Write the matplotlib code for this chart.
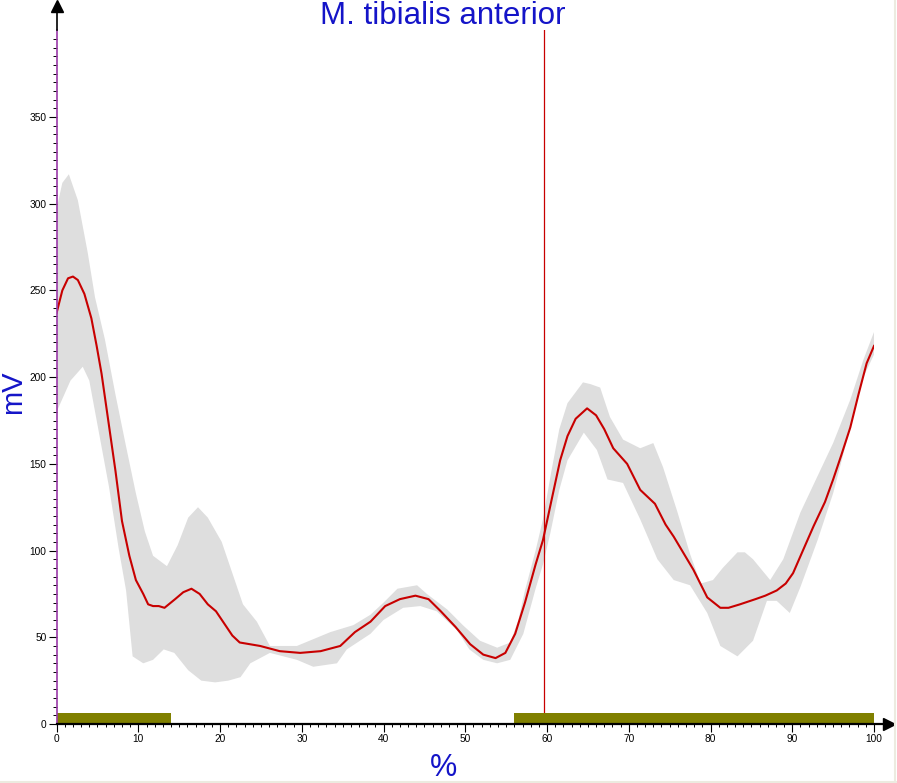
import numpy as np
import matplotlib
matplotlib.use("Agg")
import matplotlib.pyplot as plt
from matplotlib.ticker import FixedLocator, NullFormatter

plt.rcParams['font.family'] = ['Liberation Sans', 'DejaVu Sans']

# ---- data ----
mean_x = [0, 0.7, 1.4, 2.0, 2.6, 3.4, 4.25, 4.9, 5.5, 6.35, 7.2, 8.0, 8.9, 9.7, 10.6, 11.2,
          11.8, 12.5, 13.2, 14.5, 15.5, 16.5, 17.5, 18.5, 19.5, 20.5, 21.5, 22.4, 24.9, 27.3,
          29.8, 32.3, 34.7, 36.5, 38.4, 40.2, 42, 43.9, 45.5, 47, 48.8, 50.6, 52.2, 53.7,
          54.9, 56.1, 57.3, 58.6, 59.5, 60.5, 61.6, 62.5, 63.5, 64.9, 66, 67, 68.1, 69.8,
          71.4, 73.2, 74.5, 75.5, 77.9, 79.6, 81.2, 82.2, 83.6, 85.5, 86.7, 88.1, 89.2,
          90.1, 91.3, 92.6, 94, 95, 96, 97.1, 98.1, 99.1, 100]
mean_y = [237, 250, 257, 258, 256, 248, 234, 218, 202, 174, 146, 117, 97, 83, 75, 69,
          68, 68, 67, 72, 76, 78, 75, 69, 65, 58, 51, 47, 45, 42,
          41, 42, 45, 53, 59, 68, 72, 74, 72, 65, 56, 46, 40, 38,
          41, 52, 70, 92, 106, 128, 152, 166, 176, 182, 178, 170, 159, 150,
          135, 127, 115, 108, 89, 73, 67, 67, 69, 72, 74, 77, 81,
          87, 100, 114, 128, 141, 155, 171, 190, 208, 218]

upper_x = [0, 0.7, 1.5, 2.6, 3.8, 4.7, 5.9, 7.2, 8.5, 9.7, 10.8, 11.8, 13.5, 14.8, 16.1,
           17.3, 18.5, 20.2, 21.5, 22.8, 24.5, 26.1, 29.4, 33.5, 36.3, 38.4, 40, 41.7,
           44.1, 45.3, 47.8, 49.7, 51.8, 53.9, 55.5, 56.5, 57.3, 58.6, 59.5, 60.5, 61.5,
           62.5, 64.4, 65.3, 66.5, 67.7, 69.3, 71.4, 73, 74.2, 75.9, 77.5, 78.8, 80.3,
           81.5, 83.3, 84.2, 85.2, 87.3, 88.9, 91, 93.1, 95, 97.1, 98.7, 100]
upper_y = [297, 312, 317, 302, 272, 246, 222, 190, 160, 133, 111, 97, 91, 103, 119,
           125, 119, 105, 87, 69, 59, 45, 45, 53, 57, 63, 70, 78,
           80, 75, 66, 57, 48, 44, 47, 60, 77, 100, 118, 145, 170,
           185, 197, 196, 194, 177, 164, 159, 162, 148, 123, 98, 81, 83,
           90, 99, 99, 95, 83, 95, 122, 143, 162, 187, 210, 226]

lower_x = [0, 1.7, 3.2, 4.0, 5.1, 6.4, 7.6, 8.5, 9.3, 10.6, 11.8, 13.1, 14.4, 16.1, 17.7,
           19.4, 21, 22.5, 23.7, 26.1, 29.4, 31.4, 34.3, 35.5, 38.4, 40, 42.4, 44.5, 46.5,
           49, 50.5, 52.2, 53.9, 55.5, 57.1, 58.6, 59.5, 60.4, 61.5, 62.5, 64.5, 66.1,
           67.4, 69.3, 71.4, 73.5, 75.5, 77.5, 79.6, 81.2, 83.3, 85.2, 86.9, 88.1, 89.7,
           91, 93.1, 95, 97.1, 98.7, 100]
lower_y = [180, 198, 206, 198, 170, 137, 101, 77, 39, 35, 37, 43, 41, 31, 25,
           24, 25, 27, 35, 41, 37, 33, 35, 43, 52, 60, 67, 68, 65,
           54, 43, 37, 35, 37, 52, 78, 92, 110, 135, 152, 168, 158,
           141, 139, 118, 95, 83, 80, 64, 45, 39, 48, 71, 71, 64,
           79, 106, 133, 171, 200, 213]

phase_start = [0, 56]
phase_end = [14, 100]
phase_height = 6.5
event_x = 59.6

x_major = list(range(0, 101, 10))
y_major = list(range(0, 351, 50))

title = "M. tibialis anterior"
xlabel = "%"
ylabel = "mV"

# ---- figure ----
W, H = 897, 783
fig = plt.figure(figsize=(W / 100, H / 100), dpi=100)
x0_px, x100_px = 56.6, 874.0
y0_px, y400_px = 724.0, 30.3
ax = fig.add_axes([x0_px / W, (H - y0_px) / H, (x100_px - x0_px) / W, (y0_px - y400_px) / H])
ax.set_xlim(0, 100)
ax.set_ylim(0, 400)
for s in ax.spines.values():
    s.set_visible(False)

band_poly_x = np.concatenate([upper_x, lower_x[::-1]])
band_poly_y = np.concatenate([upper_y, lower_y[::-1]])
ax.fill(band_poly_x, band_poly_y, color='#dedede', lw=0, zorder=1)

ax.plot(mean_x, mean_y, color='#c80000', lw=1.5, zorder=3, solid_joinstyle='round')
ax.plot([event_x, event_x], [0, 400], color='#c80000', lw=0.9, zorder=2)

for s0, s1 in zip(phase_start, phase_end):
    ax.bar(s0, phase_height, width=s1 - s0, align='edge', color='#808000', zorder=4)

# axes lines with arrows
ax.plot([0, 0], [0, 400], color='#9a3aa8', lw=1.2, zorder=5, clip_on=False)
ax.plot([0, 0], [400, 412], color='black', lw=1.2, zorder=5, clip_on=False)
ax.plot([0], [414], marker='^', ms=8, color='black', zorder=6, clip_on=False)
ax.plot([0, 101.5], [0, 0], color='black', lw=1.6, zorder=5, clip_on=False)
ax.plot([101.8], [0], marker='>', ms=8, color='black', zorder=6, clip_on=False)

# ticks
ax.xaxis.set_major_locator(FixedLocator(x_major))
ax.xaxis.set_minor_locator(FixedLocator(np.arange(0, 101, 1)))
ax.yaxis.set_major_locator(FixedLocator(y_major))
ax.yaxis.set_minor_locator(FixedLocator(np.arange(0, 400, 5)))
ax.xaxis.set_minor_formatter(NullFormatter())
ax.yaxis.set_minor_formatter(NullFormatter())
ax.tick_params(axis='x', which='major', length=5.5, width=0.8, direction='out', pad=1.5,
               labelsize=7.3, colors='black')
ax.tick_params(axis='x', which='minor', length=2.3, width=0.7, direction='out')
ax.tick_params(axis='y', which='major', length=6, width=0.8, direction='out', pad=1.3,
               labelsize=7.3, colors='black')
ax.tick_params(axis='y', which='minor', length=3, width=0.7, direction='out')

# texts
fig.text(443 / W, 1 - 16 / H, title, ha='center', va='center', color='#1414c8', fontsize=22.5)
fig.text(443 / W, 1 - 768 / H, xlabel, ha='center', va='center', color='#1414c8', fontsize=22)
fig.text(13 / W, 1 - 392 / H, ylabel, ha='center', va='center', color='#1414c8', fontsize=21,
         rotation=90)

# faint window border
fig.add_artist(plt.Line2D([894.5 / W, 894.5 / W], [0, 1], color='#ecebe0', lw=1.5))
fig.add_artist(plt.Line2D([0, 1], [1.5 / H, 1.5 / H], color='#ecebe0', lw=1.5))

fig.savefig("out.png", dpi=100)
